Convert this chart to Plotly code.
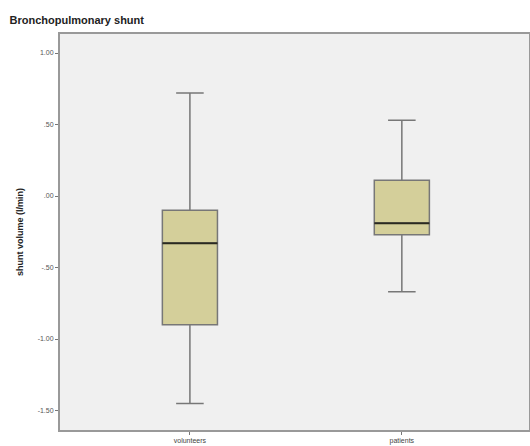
import plotly.graph_objects as go

groups = ["volunteers", "patients"]
q1 = [-0.90, -0.27]
median = [-0.33, -0.19]
q3 = [-0.10, 0.11]
lower = [-1.45, -0.67]
upper = [0.72, 0.53]

tick_vals = [1.0, 0.5, 0.0, -0.5, -1.0, -1.5]
tick_text = ["1.00", ".50", ".00", "-.50", "-1.00", "-1.50"]

fig = go.Figure()
fig.add_trace(go.Box(
    x=groups, q1=q1, median=median, q3=q3, lowerfence=lower, upperfence=upper,
    fillcolor="#d4cf9a", line=dict(color="#777777", width=1.5),
    width=0.26, whiskerwidth=0.5, boxpoints=False, hoverinfo="skip",
    showlegend=False,
))
# dark median line overlay
fig.add_trace(go.Box(
    x=groups, q1=median, median=median, q3=median, lowerfence=median, upperfence=median,
    fillcolor="rgba(0,0,0,0)", line=dict(color="#2a2a20", width=2),
    width=0.26, whiskerwidth=0, boxpoints=False, hoverinfo="skip",
    showlegend=False,
))

fig.update_layout(
    width=530, height=446,
    margin=dict(l=60, r=1, t=34, b=16),
    paper_bgcolor="white", plot_bgcolor="#f0f0f0",
    boxmode="overlay",
    font=dict(family="Liberation Sans, Arial, sans-serif", color="#333"),
    title=dict(text="<b>Bronchopulmonary shunt</b>", x=0.018, xanchor="left",
               y=0.955, yanchor="middle", font=dict(size=11, color="#222"),
               automargin=False),
    xaxis=dict(
        range=[-0.613, 1.6], showgrid=False, zeroline=False, automargin=False,
        showline=True, linecolor="#999", linewidth=2, mirror=True,
        ticks="outside", ticklen=3, tickcolor="#777",
        tickfont=dict(size=7, color="#444"),
    ),
    yaxis=dict(
        range=[-1.636, 1.133], showgrid=False, zeroline=False, automargin=False,
        showline=True, linecolor="#999", linewidth=2, mirror=True,
        ticks="outside", ticklen=3, tickcolor="#777",
        tickvals=tick_vals, ticktext=tick_text,
        tickfont=dict(size=7, color="#555"),
        title=dict(text="<b>shunt volume (l/min)</b>", font=dict(size=9, color="#222"),
                   standoff=12),
    ),
)

fig.write_html("out.html", config={"displayModeBar": False},
               post_script="document.body.style.margin='0';document.body.style.overflow='hidden';")
